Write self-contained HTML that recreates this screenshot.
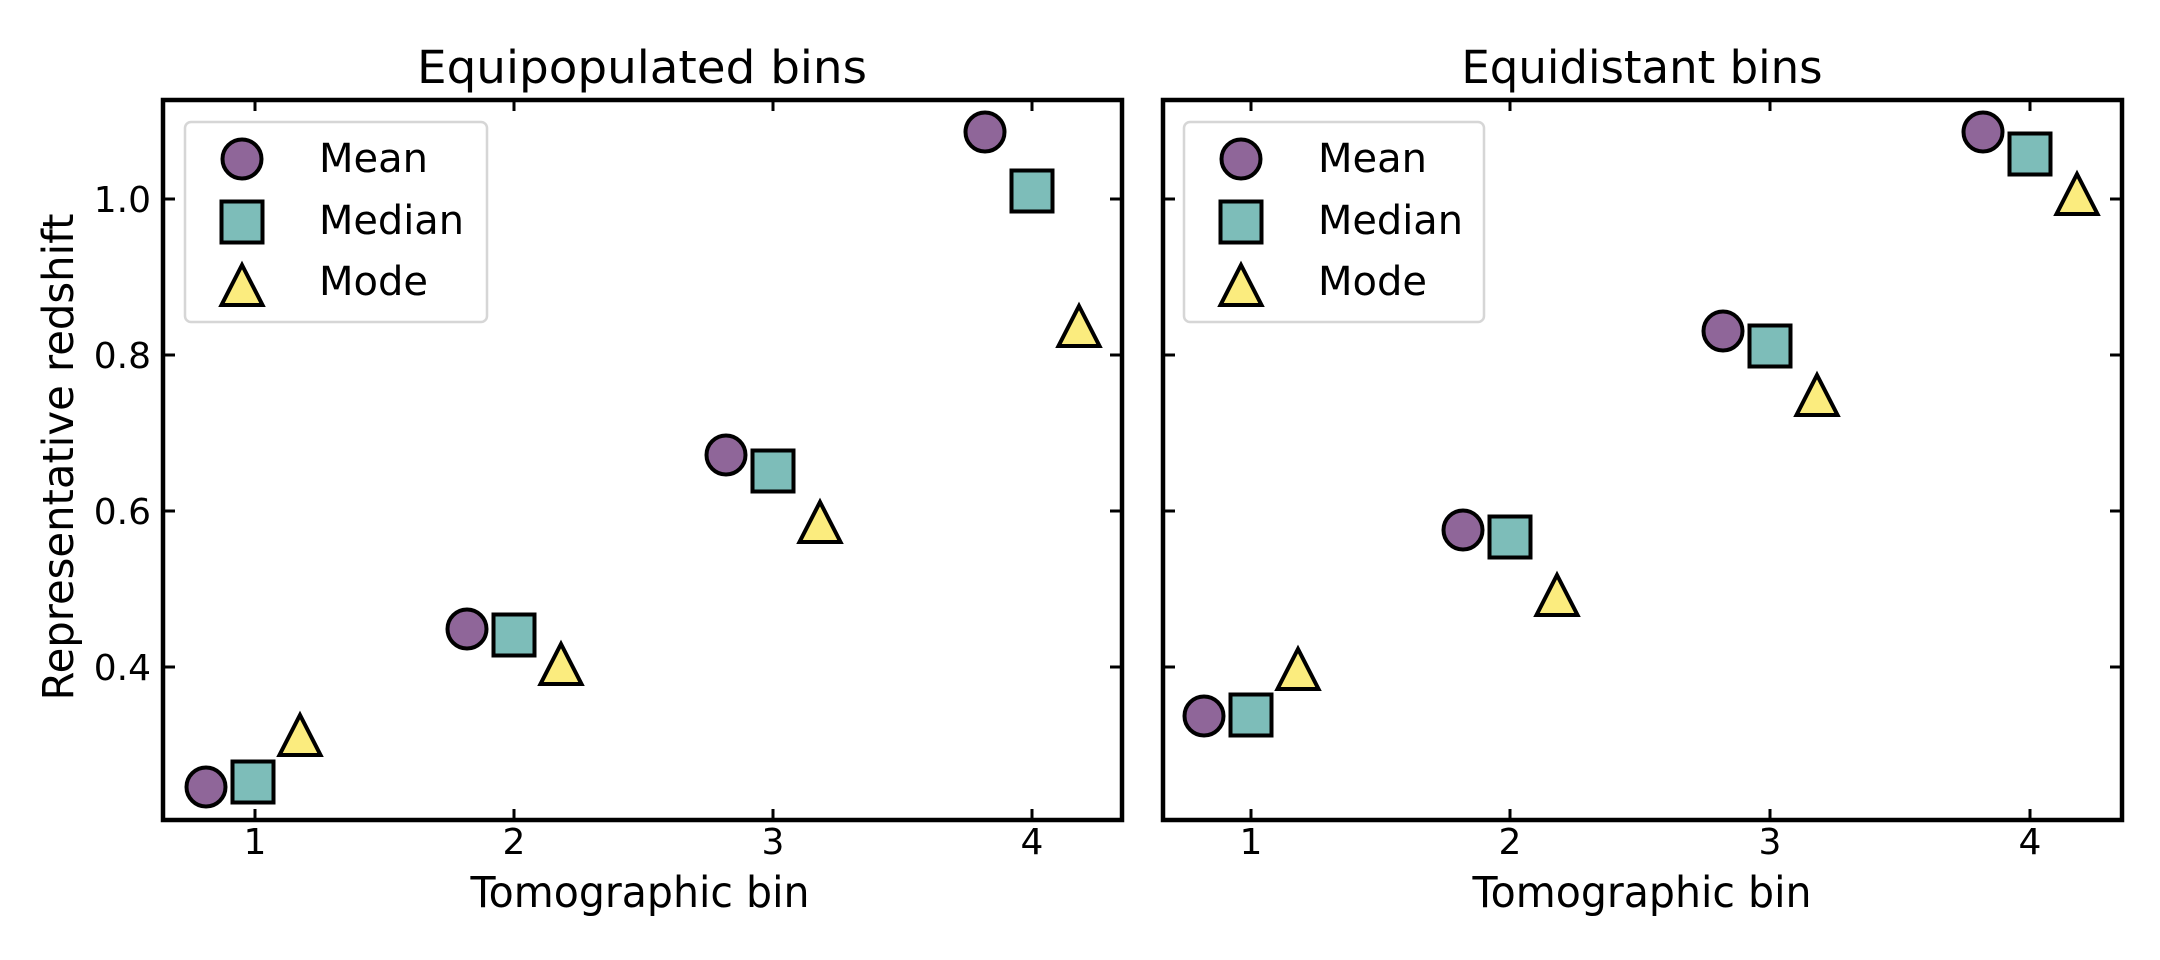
<!DOCTYPE html>
<html><head><meta charset="utf-8"><style>
html,body{margin:0;padding:0;background:#fff;}
svg{display:block;}
text{font-family:"DejaVu Sans","Liberation Sans",sans-serif;fill:#000;}
</style></head><body>
<svg width="2160" height="960" viewBox="0 0 2160 960" xmlns="http://www.w3.org/2000/svg">
<defs>
<g id="c"><circle r="19.5" fill="#8f6699" stroke="#000" stroke-width="4"/></g>
<g id="s"><rect x="-20.5" y="-20.5" width="41" height="41" fill="#7dbdb9" stroke="#000" stroke-width="4"/></g>
<g id="t"><polygon points="0,-20 20.5,20 -20.5,20" fill="#fbec7e" stroke="#000" stroke-width="4" stroke-linejoin="miter"/></g>
</defs>

<!-- Left panel -->
<text x="642" y="83" font-size="45" text-anchor="middle" textLength="450" lengthAdjust="spacingAndGlyphs">Equipopulated bins</text>
<g stroke="#000" stroke-width="3">
<line x1="255" y1="100" x2="255" y2="111"/><line x1="514" y1="100" x2="514" y2="111"/><line x1="773" y1="100" x2="773" y2="111"/><line x1="1032" y1="100" x2="1032" y2="111"/>
<line x1="255" y1="820" x2="255" y2="809"/><line x1="514" y1="820" x2="514" y2="809"/><line x1="773" y1="820" x2="773" y2="809"/><line x1="1032" y1="820" x2="1032" y2="809"/>
<line x1="164" y1="199" x2="175" y2="199"/><line x1="164" y1="355" x2="175" y2="355"/><line x1="164" y1="511" x2="175" y2="511"/><line x1="164" y1="667" x2="175" y2="667"/>
<line x1="1121" y1="199" x2="1110" y2="199"/><line x1="1121" y1="355" x2="1110" y2="355"/><line x1="1121" y1="511" x2="1110" y2="511"/><line x1="1121" y1="667" x2="1110" y2="667"/>
</g>
<rect x="163" y="100" width="959" height="720" fill="none" stroke="#000" stroke-width="4.5"/>
<g font-size="36" text-anchor="middle">
<text x="255" y="854">1</text><text x="514" y="854">2</text><text x="773" y="854">3</text><text x="1032" y="854">4</text>
</g>
<g font-size="36" text-anchor="end">
<text x="151" y="212">1.0</text><text x="151" y="368">0.8</text><text x="151" y="524">0.6</text><text x="151" y="680">0.4</text>
</g>
<text x="640" y="907" font-size="43" text-anchor="middle" textLength="339" lengthAdjust="spacingAndGlyphs">Tomographic bin</text>
<text transform="translate(73,457) rotate(-90)" font-size="43" text-anchor="middle" textLength="487" lengthAdjust="spacingAndGlyphs">Representative redshift</text>

<rect x="185" y="122" width="302" height="200" rx="6" fill="#fff" stroke="#d6d6d6" stroke-width="2.5"/>
<use href="#c" x="242" y="159"/><use href="#s" x="242" y="222"/><use href="#t" x="242" y="285"/>
<g font-size="40"><text x="319" y="172">Mean</text><text x="319" y="234" textLength="145" lengthAdjust="spacingAndGlyphs">Median</text><text x="319" y="295">Mode</text></g>

<use href="#c" x="206" y="787"/><use href="#s" x="253" y="782"/><use href="#t" x="300" y="735"/>
<use href="#c" x="467" y="629"/><use href="#s" x="514" y="635"/><use href="#t" x="561" y="664"/>
<use href="#c" x="726" y="455"/><use href="#s" x="773" y="471"/><use href="#t" x="820" y="522"/>
<use href="#c" x="985" y="132"/><use href="#s" x="1032" y="191"/><use href="#t" x="1079" y="326"/>

<!-- Right panel -->
<text x="1642" y="83" font-size="45" text-anchor="middle">Equidistant bins</text>
<g stroke="#000" stroke-width="3">
<line x1="1251" y1="100" x2="1251" y2="111"/><line x1="1510" y1="100" x2="1510" y2="111"/><line x1="1770" y1="100" x2="1770" y2="111"/><line x1="2030" y1="100" x2="2030" y2="111"/>
<line x1="1251" y1="820" x2="1251" y2="809"/><line x1="1510" y1="820" x2="1510" y2="809"/><line x1="1770" y1="820" x2="1770" y2="809"/><line x1="2030" y1="820" x2="2030" y2="809"/>
<line x1="1164" y1="199" x2="1175" y2="199"/><line x1="1164" y1="355" x2="1175" y2="355"/><line x1="1164" y1="511" x2="1175" y2="511"/><line x1="1164" y1="667" x2="1175" y2="667"/>
<line x1="2121" y1="199" x2="2110" y2="199"/><line x1="2121" y1="355" x2="2110" y2="355"/><line x1="2121" y1="511" x2="2110" y2="511"/><line x1="2121" y1="667" x2="2110" y2="667"/>
</g>
<rect x="1163" y="100" width="959" height="720" fill="none" stroke="#000" stroke-width="4.5"/>
<g font-size="36" text-anchor="middle">
<text x="1251" y="854">1</text><text x="1510" y="854">2</text><text x="1770" y="854">3</text><text x="2030" y="854">4</text>
</g>
<text x="1642" y="907" font-size="43" text-anchor="middle" textLength="339" lengthAdjust="spacingAndGlyphs">Tomographic bin</text>

<rect x="1184" y="122" width="300" height="200" rx="6" fill="#fff" stroke="#d6d6d6" stroke-width="2.5"/>
<use href="#c" x="1241" y="159"/><use href="#s" x="1241" y="222"/><use href="#t" x="1241" y="285"/>
<g font-size="40"><text x="1318" y="172">Mean</text><text x="1318" y="234" textLength="145" lengthAdjust="spacingAndGlyphs">Median</text><text x="1318" y="295">Mode</text></g>

<use href="#c" x="1204" y="716"/><use href="#s" x="1251" y="715"/><use href="#t" x="1298" y="669"/>
<use href="#c" x="1463" y="530"/><use href="#s" x="1510" y="537"/><use href="#t" x="1557" y="595"/>
<use href="#c" x="1723" y="331"/><use href="#s" x="1770" y="346"/><use href="#t" x="1817" y="395"/>
<use href="#c" x="1983" y="132"/><use href="#s" x="2030" y="154"/><use href="#t" x="2077" y="194"/>
</svg>
</body></html>
